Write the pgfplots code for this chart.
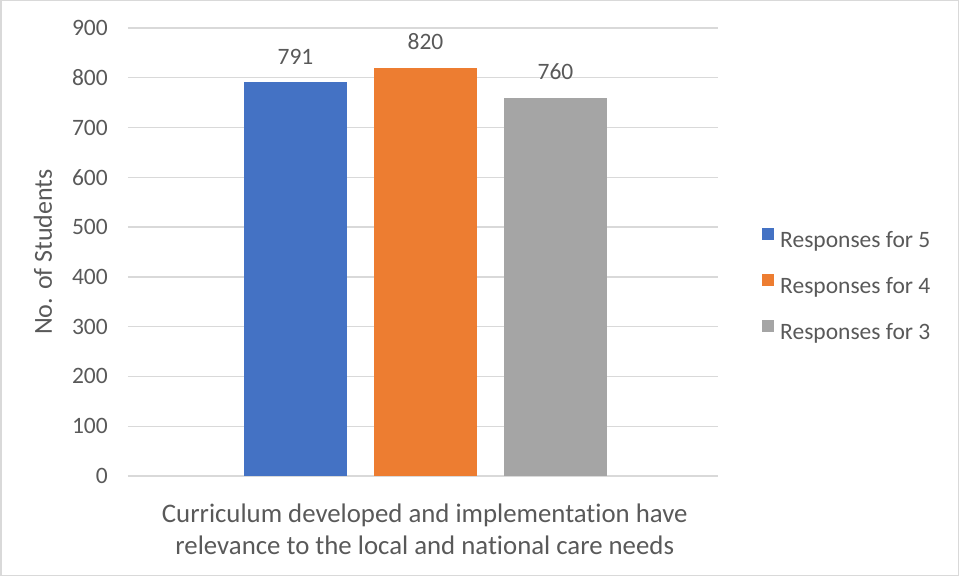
\documentclass[border=0pt]{standalone}
\usepackage{pgfplots}
\pgfplotsset{compat=1.18}
\usepackage{fontspec}
\setmainfont{Carlito}[Ligatures=NoCommon]
\definecolor{cfive}{HTML}{4472C4}
\definecolor{cfour}{HTML}{ED7D31}
\definecolor{cthree}{HTML}{A5A5A5}
\definecolor{txt}{HTML}{595959}
\definecolor{grid}{HTML}{D9D9D9}
\begin{document}
\begin{tikzpicture}
\useasboundingbox (0,0) rectangle (959pt,576pt);
\begin{axis}[
  at={(128pt,100pt)}, anchor=south west,
  scale only axis, width=590pt, height=448pt,
  xmin=-1.0085, xmax=0.9915, ymin=0, ymax=900,
  xtick=\empty,
  ytick={0,100,...,900},
  ymajorgrids, grid style={draw=grid, line width=1.3pt},
  axis line style={draw=none}, major tick length=0pt,
  tick label style={font=\fontsize{23.5}{28}\selectfont, text=txt},
  yticklabel style={inner sep=0pt, anchor=east, xshift=-20pt},
  /pgf/number format/assume math mode=true,
  ylabel={No. of Students},
  ylabel style={at={(axis description cs:-0.144,0.5)}, anchor=center, font=\fontsize{26}{31}\selectfont, text=txt},
  xlabel={Curriculum developed and implementation have\\relevance to the local and national care needs},
  xlabel style={at={(axis description cs:0.503,-0.118)}, anchor=center, align=center, font=\fontsize{26.8}{32}\selectfont, text=txt},
  nodes near coords,
  every node near coord/.append style={anchor=base, inner sep=0pt, yshift=18pt, font=\fontsize{23.5}{28}\selectfont, text=txt},
  legend cell align=left,
  legend image code/.code={\fill[#1] (0pt,1.5pt) rectangle (12pt,13.5pt);},
  legend style={at={(rel axis cs:1.0746,0.4219)}, anchor=west, draw=none, fill=none, inner sep=0pt,
    font=\fontsize{23.5}{28}\selectfont, text=txt, row sep=21pt, column sep=6pt,
    nodes={inner sep=0pt, text height=17pt, text depth=6pt}},
]
\addplot[ybar, bar width=103pt, bar shift=0pt, fill=cfive, draw=none] coordinates {(-0.4407,791)};
\addplot[ybar, bar width=103pt, bar shift=0pt, fill=cfour, draw=none] coordinates {(0,820)};
\addplot[ybar, bar width=103pt, bar shift=0pt, fill=cthree, draw=none] coordinates {(0.4407,760)};
\legend{Responses for 5, Responses for 4, Responses for 3}
\end{axis}
\draw[grid, line width=1.5pt] (0.75pt,0.75pt) rectangle (958.25pt,575.25pt);
\end{tikzpicture}
\end{document}
